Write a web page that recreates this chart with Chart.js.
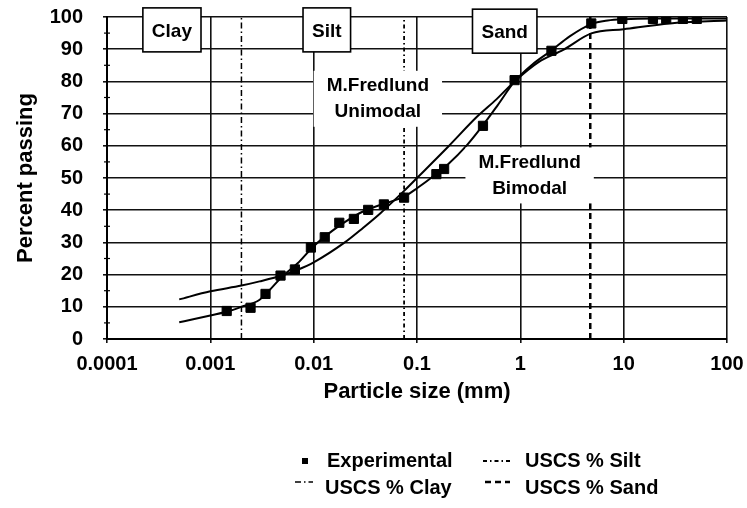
<!DOCTYPE html>
<html>
<head>
<meta charset="utf-8">
<script src="https://cdn.jsdelivr.net/npm/chart.js@4.4.1/dist/chart.umd.min.js"></script>
<style>
  html, body { margin: 0; padding: 0; background: #fff; }
</style>
</head>
<body>
<canvas id="gradationChart" width="747" height="508"></canvas>
<script>
// grain size distribution
const sizeTicks = [0.0001, 0.001, 0.01, 0.1, 1, 10, 100];
const sizeTickLabels = ['0.0001', '0.001', '0.01', '0.1', '1', '10', '100'];
const minorPassing = [5, 15, 25, 35, 45, 55, 65, 75, 85, 95];

const expSize = [0.00144, 0.00245, 0.00342, 0.00478, 0.00658, 0.0094, 0.0128, 0.0177, 0.0245, 0.0337,
  0.0478, 0.075, 0.154, 0.183, 0.435, 0.88, 2.0, 4.86, 9.7, 19.2, 25.8, 37.4, 51];
const expPassing = [8.7, 9.7, 14.0, 19.7, 21.6, 28.4, 31.6, 36.1, 37.3, 40.1,
  41.8, 43.9, 51.2, 52.8, 66.2, 80.4, 89.5, 98.0, 99.4, 99.4, 99.4, 99.4, 99.4];

const uniSize = [0.0005, 0.001, 0.002, 0.003, 0.005, 0.007, 0.01, 0.02, 0.03, 0.044, 0.075, 0.1,
  0.2, 0.38, 0.59, 0.88, 1.5, 2.6, 4.86, 10, 28, 100];
const uniPassing = [12.3, 14.8, 16.6, 17.9, 19.8, 21.5, 23.8, 30.0, 34.5, 39.0, 46.0, 50.0,
  59.7, 69.0, 74.5, 80.0, 86.0, 89.8, 94.9, 96.2, 98.0, 98.9];

const biSize = [0.0005, 0.0007, 0.001, 0.0015, 0.002, 0.003, 0.004, 0.005, 0.007, 0.01, 0.015,
  0.02, 0.03, 0.05, 0.075, 0.1, 0.15, 0.2, 0.3, 0.43, 0.6, 0.88, 1.3, 2, 3, 4.86, 7, 10, 20, 50, 100];
const biPassing = [5.2, 6.2, 7.3, 8.6, 10.0, 12.2, 16.2, 19.5, 23.5, 28.8, 33.5,
  36.3, 39.6, 42.2, 44.2, 46.8, 51.0, 54.3, 60.0, 66.2, 72.5, 80.0, 85.2, 89.6, 94.0, 97.8, 98.9, 99.3, 99.5, 99.5, 99.5];

// USCS boundaries (mm)
const boundaryNames = ['USCS % Clay', 'USCS % Silt', 'USCS % Sand'];
const boundarySize = [0.002, 0.075, 4.75];

// boxed zone names and curve labels (data coordinates)
const zoneNames = ['Clay', 'Silt', 'Sand'];
const zoneSize = [0.000425, 0.0134, 0.706];
const zonePassing = [96, 96, 95.6];
const curveLabels = [['M.Fredlund', 'Unimodal'], ['M.Fredlund', 'Bimodal']];
const curveLabelSize = [0.0418, 1.23];
const curveLabelPassing = [74.6, 50.8];

const FONT = '"Liberation Sans", Arial, sans-serif';
const boundaryDash = [[6, 3, 1.5, 3], [4, 3, 1.5, 3], [6, 4]];
const boundaryWidth = [1.5, 1.8, 2.5];

const toPoints = (xs, ys) => xs.map((v, i) => ({ x: v, y: ys[i] }));

// where each legend entry sits: [markerX1, markerX2, markerY, textX, textY]
const legendSlots = {
  'Experimental': [302, 308, 461, 327, 461],
  'USCS % Silt': [483, 510, 461, 525, 461],
  'USCS % Clay': [295, 313, 482, 325, 488],
  'USCS % Sand': [485, 510, 482, 525, 488]
};

// keep tick labels from pushing the plot area around
const noOverflow = (axis) => {
  axis.paddingTop = 0;
  axis.paddingBottom = 0;
  axis.paddingLeft = 0;
  axis.paddingRight = 0;
};

const annotations = {
  id: 'annotations',
  afterDatasetsDraw(chart) {
    const { ctx, scales: { x, y } } = chart;
    ctx.save();
    ctx.font = 'bold 19px ' + FONT;
    ctx.textAlign = 'center';
    ctx.textBaseline = 'middle';

    zoneNames.forEach((name, i) => {
      const cx = x.getPixelForValue(zoneSize[i]);
      const cy = y.getPixelForValue(zonePassing[i]);
      const w = ctx.measureText(name).width + 18;
      const h = 44;
      ctx.fillStyle = '#fff';
      ctx.fillRect(cx - w / 2, cy - h / 2, w, h);
      ctx.strokeStyle = '#000';
      ctx.lineWidth = 1.6;
      ctx.strokeRect(cx - w / 2, cy - h / 2, w, h);
      ctx.fillStyle = '#000';
      ctx.fillText(name, cx, cy + 2);
    });

    curveLabels.forEach((lines, i) => {
      const cx = x.getPixelForValue(curveLabelSize[i]);
      const cy = y.getPixelForValue(curveLabelPassing[i]);
      const w = Math.max(...lines.map(t => ctx.measureText(t).width)) + 26;
      const h = 56;
      ctx.fillStyle = '#fff';
      ctx.fillRect(cx - w / 2, cy - h / 2, w, h);
      ctx.fillStyle = '#000';
      ctx.fillText(lines[0], cx, cy - 13);
      ctx.fillText(lines[1], cx, cy + 13);
    });
    ctx.restore();
  },
  afterDraw(chart) {
    const { ctx, scales: { x, y } } = chart;
    ctx.save();
    // minor ticks on the y axis
    ctx.strokeStyle = '#000';
    ctx.lineWidth = 1.2;
    minorPassing.forEach(v => {
      const py = y.getPixelForValue(v);
      ctx.beginPath();
      ctx.moveTo(x.left - 3, py);
      ctx.lineTo(x.left + 3, py);
      ctx.stroke();
    });

    // legend
    ctx.font = 'bold 20px ' + FONT;
    ctx.textAlign = 'left';
    ctx.textBaseline = 'middle';
    chart.data.datasets.forEach(ds => {
      const slot = legendSlots[ds.label];
      if (!slot) return;
      const [x1, x2, my, tx, ty] = slot;
      ctx.fillStyle = '#000';
      ctx.strokeStyle = '#000';
      if (ds.showLine === false) {
        ctx.fillRect(x1, my - 3, x2 - x1, 6);
      } else {
        ctx.lineWidth = ds.borderWidth;
        ctx.setLineDash(ds.borderDash || []);
        ctx.beginPath();
        ctx.moveTo(x1, my);
        ctx.lineTo(x2, my);
        ctx.stroke();
        ctx.setLineDash([]);
      }
      ctx.fillText(ds.label, tx, ty);
    });
    ctx.restore();
  }
};

const ctx = document.getElementById('gradationChart').getContext('2d');

new Chart(ctx, {
  type: 'line',
  data: {
    datasets: [
      {
        label: 'Experimental',
        data: toPoints(expSize, expPassing),
        showLine: false,
        pointStyle: 'rect',
        pointRadius: 6.5,
        backgroundColor: '#000',
        borderColor: '#000'
      },
      {
        label: 'M.Fredlund Unimodal',
        data: toPoints(uniSize, uniPassing),
        borderColor: '#000',
        borderWidth: 2,
        pointRadius: 0,
        cubicInterpolationMode: 'monotone'
      },
      {
        label: 'M.Fredlund Bimodal',
        data: toPoints(biSize, biPassing),
        borderColor: '#000',
        borderWidth: 2,
        pointRadius: 0,
        cubicInterpolationMode: 'monotone'
      },
      ...boundaryNames.map((name, i) => ({
        label: name,
        data: [{ x: boundarySize[i], y: 0 }, { x: boundarySize[i], y: 100 }],
        borderColor: '#000',
        borderWidth: boundaryWidth[i],
        borderDash: boundaryDash[i],
        pointRadius: 0
      }))
    ]
  },
  options: {
    responsive: false,
    animation: false,
    devicePixelRatio: 1,
    layout: {
      padding: { top: 17, right: 20, left: 0, bottom: 0 }
    },
    plugins: {
      legend: { display: false },
      tooltip: { enabled: false }
    },
    scales: {
      x: {
        type: 'logarithmic',
        min: 0.0001,
        max: 100,
        afterBuildTicks: (axis) => {
          axis.ticks = sizeTicks.map(v => ({ value: v }));
        },
        afterFit: (axis) => { axis.height = 169; noOverflow(axis); },
        ticks: {
          callback: (val, i) => sizeTickLabels[i],
          font: { family: FONT, size: 20, weight: 'bold' },
          color: '#000',
          padding: 9,
          maxRotation: 0,
          autoSkip: false
        },
        grid: { color: '#111', lineWidth: 1.6, tickLength: 4 },
        border: { color: '#000', width: 2 },
        title: {
          display: true,
          text: 'Particle size (mm)',
          font: { family: FONT, size: 22, weight: 'bold' },
          color: '#000',
          padding: { top: 0, bottom: 103 }
        }
      },
      y: {
        min: 0,
        max: 100,
        afterFit: (axis) => { axis.width = 107; noOverflow(axis); },
        ticks: {
          stepSize: 10,
          font: { family: FONT, size: 20, weight: 'bold' },
          color: '#000',
          padding: 20
        },
        grid: { color: '#111', lineWidth: 1.6, tickLength: 4 },
        border: { color: '#000', width: 2 },
        title: {
          display: true,
          text: 'Percent passing',
          font: { family: FONT, size: 22, weight: 'bold' },
          color: '#000',
          padding: { top: 13, bottom: 0 }
        }
      }
    }
  },
  plugins: [annotations]
});
</script>
</body>
</html>
